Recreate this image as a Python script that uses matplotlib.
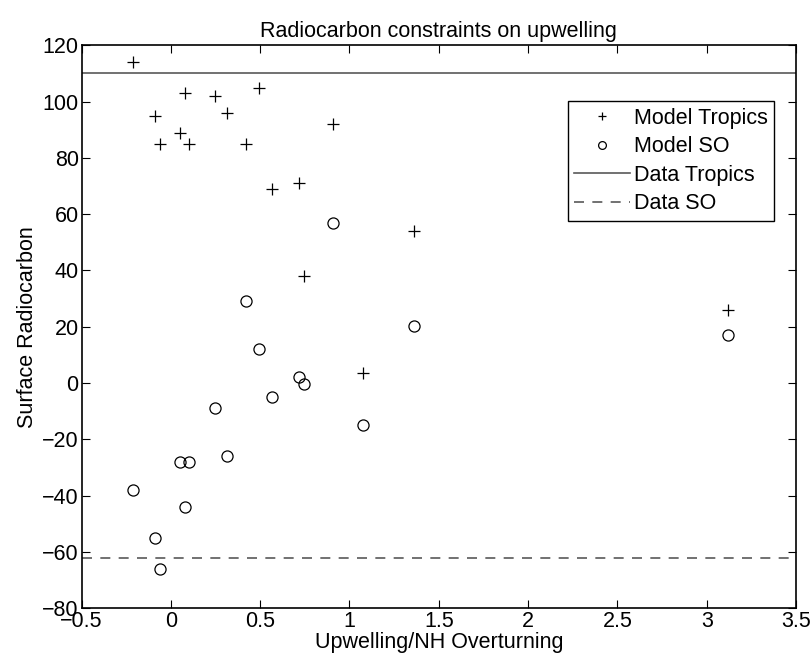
import numpy as np
import matplotlib
matplotlib.use('Agg')
import matplotlib.pyplot as plt

# ratio of upwelling to NH overturning for each model run
ratio = [-0.21, -0.089, -0.062, 0.05, 0.079, 0.10, 0.249, 0.316, 0.42,
         0.495, 0.566, 0.719, 0.747, 0.909, 1.074, 1.361, 3.12]
# surface radiocarbon, tropics and Southern Ocean
model_tropics = [114, 95, 85, 89, 103, 85, 102, 96, 85,
                 105, 69, 71, 38, 92, 3.6, 54, 26]
model_so = [-38, -55, -66, -28, -44, -28, -8.8, -26, 29,
            12, -4.8, 2.3, -0.3, 57, -14.8, 20.3, 17]
data_tropics = 110
data_so = -62

plt.rcParams['font.family'] = ['Liberation Sans', 'DejaVu Sans']
plt.rcParams['font.size'] = 15.5

fig = plt.figure(figsize=(8.11, 6.61), dpi=100)
ax = fig.add_axes([0.1005, 0.0797, 0.881, 0.8518])

ax.plot(ratio, model_tropics, 'k+', ms=9, mew=0.9, label='Model Tropics')
ax.plot(ratio, model_so, 'o', mfc='none', mec='k', ms=8, mew=0.9, label='Model SO')
ax.axhline(data_tropics, color='0.35', lw=1.2, label='Data Tropics')
ax.axhline(data_so, color='0.35', lw=1.2, ls=(0, (6, 5)), label='Data SO')

ax.set_xlim(-0.5, 3.5)
ax.set_ylim(-80, 120)
ax.set_xticks(np.arange(-0.5, 3.51, 0.5))
ax.set_yticks(np.arange(-80, 121, 20))
ax.set_xticklabels(['\u22120.5', '0', '0.5', '1', '1.5', '2', '2.5', '3', '3.5'])
ax.set_yticklabels(['\u221280', '\u221260', '\u221240', '\u221220', '0',
                    '20', '40', '60', '80', '100', '120'])
ax.tick_params(direction='in', length=6, width=0.8, top=True, right=True, pad=2)
for s in ax.spines.values():
    s.set_linewidth(1.2)

ax.set_xlabel('Upwelling/NH Overturning', labelpad=0)
ax.set_ylabel('Surface Radiocarbon', labelpad=3)
ax.set_title('Radiocarbon constraints on upwelling', fontsize=15.5, pad=6)

leg = ax.legend(loc='upper right', bbox_to_anchor=(0.969, 0.9005), borderaxespad=0,
                fancybox=False, framealpha=1, edgecolor='k', handlelength=2.6,
                handletextpad=0.15, labelspacing=0.35, borderpad=0.3, markerscale=0.7)
leg.get_frame().set_linewidth(1.0)

fig.savefig('out.png', dpi=100)
